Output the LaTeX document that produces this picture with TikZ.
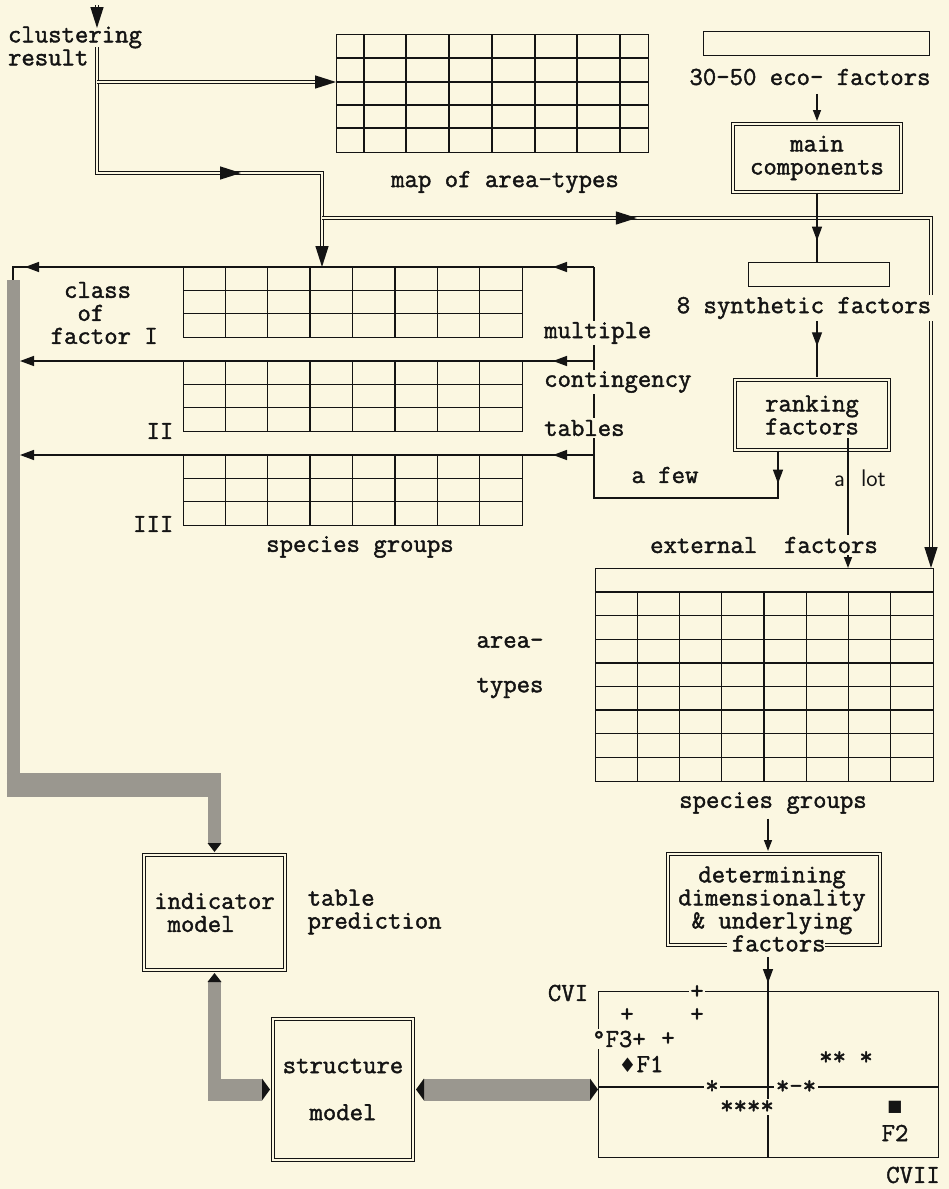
\documentclass[tikz,border=0pt]{standalone}
\usepackage{fontspec}
\setmonofont{Latin Modern Mono}[FakeBold=1.6]
\newfontfamily\symfont{DejaVu Sans}
\usetikzlibrary{arrows.meta, positioning, calc, decorations.markings}
\definecolor{paper}{HTML}{FBF7E1}
\definecolor{ink}{HTML}{141414}
\definecolor{halftone}{HTML}{9A978F}
\tikzset{
  every picture/.style={x=1pt, y=-1pt, line width=1.4pt, color=ink, font=\ttfamily\fontsize{26}{23}\selectfont},
  bigT/.tip={Triangle[length=21pt, width=13pt]},
  midT/.tip={Triangle[length=14pt, width=10pt]},
  smallT/.tip={Triangle[length=11pt, width=8pt]},
  barT/.tip={Triangle[length=8pt, width=22pt, line width=0pt, color=ink]},
  barTn/.tip={Triangle[length=9pt, width=14pt, line width=0pt, color=ink]},
  gridbox/.style={draw, inner sep=0pt, anchor=north west},
  dbox/.style={draw, double=paper, double distance=2.4pt, line width=1.2pt, align=center, inner sep=0pt},
  dline/.style={double=paper, double distance=2.2pt, line width=1.1pt},
  dtip/.style={decorate, decoration={markings, mark=at position #1 with {\arrow{bigT}}}},
  tipat/.style={postaction={decorate, decoration={markings, mark=at position #1 with {\arrow{midT}}}}},
  knockout/.style={fill=paper, inner sep=1.5pt},
  lbl/.style={inner sep=0pt, align=center},
  halfbar/.style={draw=halftone, line width=#1},
}
\begin{document}
\begin{tikzpicture}
  \fill[paper] (0,0) rectangle (949,1189);
  \useasboundingbox (0,0) rectangle (949,1189);

  % map of area-types
  \node[gridbox, minimum width=312pt, minimum height=118pt] (map) at (336,34) {};
  \foreach \x in {364,406,449,492,535,577,620} \draw (\x,34) -- (\x,152);
  \foreach \y in {58,82,105,128} \draw (336,\y) -- (648,\y);

  % contingency tables I, II, III
  \foreach \n/\y in {1/267,2/361,3/455} {
    \node[gridbox, minimum width=339pt, minimum height=70pt] (tab\n) at (183,\y) {};
    \foreach \k in {1,...,7} \draw (183+42.375*\k,\y) -- ++(0,70);
    \foreach \k in {1,2} \draw (183,\y+23.33*\k) -- ++(339,0);
  }

  % right column boxes
  \node[gridbox, minimum width=226pt, minimum height=24pt] (eco) at (703,31) {};
  \node[dbox, minimum width=168pt, minimum height=68pt] (main) at (817,158) {main\\components};
  \node[gridbox, minimum width=141pt, minimum height=24pt] (synth) at (748,262) {};
  \node[dbox, minimum width=154pt, minimum height=70pt] (rank) at (812,415) {ranking\\factors};

  % area-types x species groups
  \node[gridbox, minimum width=338pt, minimum height=213pt] (big) at (595,568) {};
  \draw (595,592) -- (933,592);
  \foreach \k in {1,...,7} {
    \draw (595+42.25*\k,592) -- ++(0,189);
    \draw (595,592+23.625*\k) -- ++(338,0);
  }
  \node[dbox, minimum width=212pt, minimum height=91pt] (det) at (774,899.5) {};

  % bottom row
  \node[dbox, minimum width=141pt, minimum height=115pt, align=left] (ind) at (214.5,912.5) {indicator\\\hphantom{x}model};
  \node[dbox, minimum width=140pt, minimum height=141pt] (struct) at (343,1089.5) {structure\\[24pt]model};
  \node[gridbox, minimum width=340pt, minimum height=166pt] (plot) at (598,991) {};
  \coordinate (plotO) at (768,1087);

  % clustering result feeds
  \coordinate (cTop) at (97,5);
  \coordinate (cTip) at (97,28);
  \coordinate (cStart) at (97,47);
  \coordinate (cMid) at (97,82);
  \coordinate (cLow) at (97,173);
  \coordinate (jA) at (322,173);
  \coordinate (jB) at (322,218);
  \coordinate (jC) at (931,218);
  \draw[dline, shorten >=10pt] (cTop) -- (cTip);
  \path[dtip=1] (cTop) -- (cTip);
  \draw[dline] (cStart) -- (cLow) -- (jA) -- ([yshift=10pt]jA |- tab1.north);
  \path[dtip=1] (jA) -- (jA |- tab1.north);
  \path[dtip=0.64] (cLow) -- (jA);
  \draw[dline, shorten >=10pt] (cMid) -- (cMid -| map.west);
  \path[dtip=1] (cMid) -- (cMid -| map.west);
  \draw[dline] (jB) -- (jC) -- ([yshift=10pt]jC |- big.north);
  \path[dtip=0.517] (jB) -- (jC);
  \path[dtip=1] (jC) -- (jC |- big.north);

  % ranking -> tables
  \coordinate (v1) at (594,267);
  \coordinate (v2) at (594,361);
  \coordinate (v3) at (594,455);
  \coordinate (fewL) at (594,498);
  \coordinate (fewR) at (778,498);
  \coordinate (barTop) at (13,280);
  \coordinate (barBot) at (13,785);
  \coordinate (b2) at (20,361);
  \coordinate (b3) at (20,455);
  \draw[tipat=33pt] (rank.south -| fewR) -- (fewR) -- (fewL) -- (v1);
  \draw[tipat=41pt, tipat=569pt] (v1) -- (barTop |- v1) -- (barTop);
  \draw[tipat=41pt, -midT] (v2) -- (b2);
  \draw[tipat=41pt, -midT] (v3) -- (b3);
  \coordinate (lotTop) at (848,438);
  \draw[-smallT] (lotTop) -- (lotTop |- big.north);

  % plot axes
  \coordinate (detOut) at (768,957);
  \draw (plot.west |- plotO) -- (plot.east |- plotO);
  \draw[tipat=26pt] (detOut) -- (plotO |- plot.south);

  % halftone bars
  \draw[halfbar=13pt] (barTop) -- ([yshift=-12pt]barBot);
  \draw[halfbar=24pt] ([xshift=-6.5pt]barBot) -- ([xshift=6.5pt]barBot -| ind.north);
  \draw[halfbar=13pt, -barTn, shorten >=2.4pt] (barBot -| ind.north) -- (ind.north);
  \coordinate (sCorner) at (ind.south |- struct.west);
  \draw[halfbar=13pt, barTn-, shorten <=2.4pt] (ind.south) -- ([yshift=-11pt]sCorner);
  \draw[halfbar=22pt, -barT, shorten >=2.4pt] ([xshift=-6.5pt]sCorner) -- (struct.west);
  \draw[halfbar=22pt, barT-barT, shorten <=2.4pt] (struct.east) -- (plot.west |- struct.east);

  % labels
  \node[lbl, align=left] (clus) at (75,46) {clustering\\result};
  \node[lbl] (mapTxt) at (505,182) {map of area-types};
  \node[lbl, align=left, anchor=west] (facI) at (50,313) {\hphantom{x}class\\\hphantom{xx}of\\factor I};
  \node[lbl, anchor=east] (facII) at (174,431) {II};
  \node[lbl, anchor=east] (facIII) at (174,524) {III};
  \node[lbl] (specLeft) at (360,547) {species groups};
  \node[lbl] (ecoTxt) at (810,77) {30-50 eco- factors};
  \node[lbl, knockout] (synthTxt) at (804,308) {8 synthetic factors};
  \node[lbl, knockout, anchor=west] (multTxt) at (542,333) {multiple};
  \node[lbl, knockout, anchor=west] (contTxt) at (542,382) {contingency};
  \node[lbl, knockout, anchor=west] (tabTxt) at (542,428) {tables};
  \node[lbl] (fewTxt) at (665,475) {a few};
  \node[lbl, font=\sffamily\fontsize{24}{24}\selectfont] (alot) at (860,478) {a\hspace{16pt}lot};
  \node[lbl, knockout] (extTxt) at (764,545) {external\ \ factors};
  \node[lbl] (areaTxt) at (510,642) {area-};
  \node[lbl] (typesTxt) at (510,688) {types};
  \node[lbl] (specTxt) at (773,803) {species groups};
  \node[knockout, inner sep=2pt] (detGap) at (776,944) {\phantom{factors}};
  \node[lbl] (detTxt) at (772,909) {determining\\dimensionality\\\& underlying\\\hphantom{x}factors};
  \node[lbl, align=left, anchor=west] (predTxt) at (307,912) {table\\prediction};
  \node[lbl] (cvI) at (568,993) {CVI};
  \node[lbl] (cvII) at (913,1175) {CVII};

  % plot points
  \node[lbl, knockout] (p1) at (697,992) {+};
  \node[lbl] (p2) at (627,1015) {+};
  \node[lbl] (p3) at (697,1015) {+};
  \node[lbl, knockout, anchor=west] (f3) at (590,1039) {°F3+};
  \node[lbl] (p4) at (668,1039) {+};
  \node[lbl] (f1) at (641,1064) {{\symfont\fontsize{20}{20}\selectfont ♦}F1};
  \node[lbl] (s1) at (846,1058) {** *};
  \node[lbl, knockout] (s2) at (712,1087) {*};
  \node[lbl, knockout] (s3) at (796,1087) {*-*};
  \node[lbl, knockout] (s4) at (747,1107) {****};
  \node[lbl] (sq) at (895,1107) {{\symfont\fontsize{16}{16}\selectfont ■}};
  \node[lbl] (f2) at (895,1133) {F2};

  % arrows leaving labels
  \draw[-smallT, shorten <=8pt, shorten >=2.4pt] (ecoTxt.south -| main.north) -- (main.north);
  \draw[tipat=48pt, shorten >=0pt] (main.south) -- (main.south |- synth.north);
  \draw[tipat=25pt, shorten >=2.4pt] (main.south |- synthTxt.south) -- (main.south |- rank.north);
  \draw[-smallT, shorten <=4pt, shorten >=2.4pt] (specTxt.south -| plotO) -- (plotO |- det.north);
\end{tikzpicture}
\end{document}
